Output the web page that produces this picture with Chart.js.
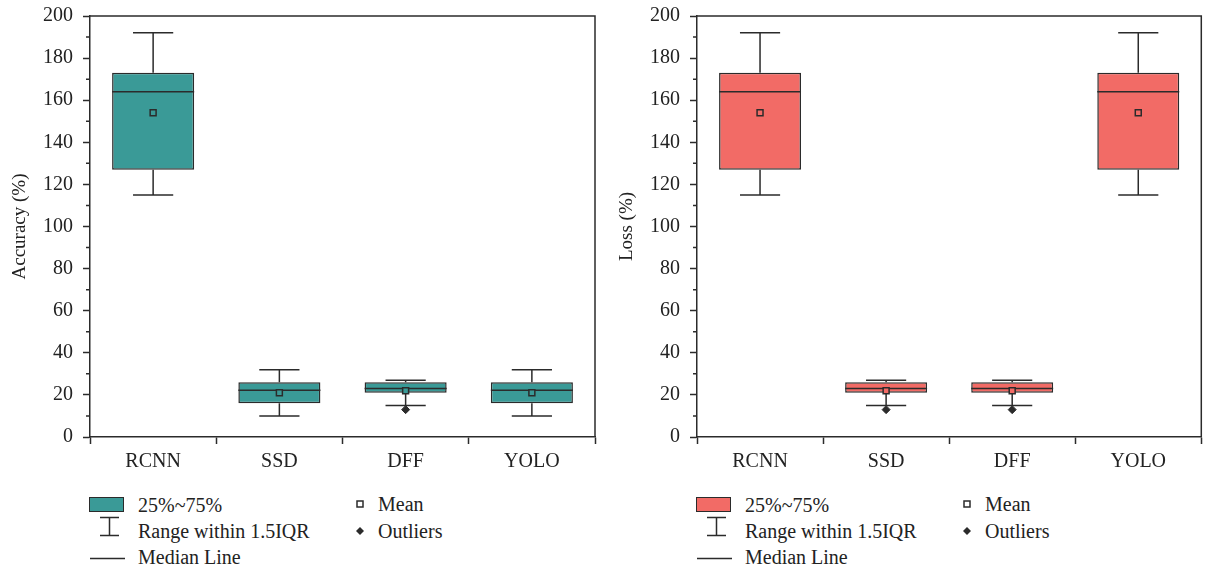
<!DOCTYPE html>
<html>
<head>
<meta charset="utf-8">
<script src="https://cdn.jsdelivr.net/npm/chart.js@4/dist/chart.umd.min.js"></script>
<style>
  body { margin: 0; background: #fff; width: 1207px; height: 571px; overflow: hidden; position: relative; font-family: "Liberation Serif", serif; color: #222; }
  .panel { position: absolute; top: 0; height: 480px; }
  .lg { position: absolute; font-size: 20px; line-height: 24px; white-space: nowrap; }
  .ico { position: absolute; }
</style>
</head>
<body>
<div class="panel" style="left:0;width:603px"><canvas id="accChart"></canvas></div>
<div class="panel" style="left:603px;width:604px"><canvas id="lossChart"></canvas></div>
<div id="legends"></div>
<script>
// data
const categories = ['RCNN', 'SSD', 'DFF', 'YOLO'];

const accQ1 = [127, 16, 21, 16];
const accQ3 = [173, 26, 26, 26];
const accMedian = [164, 22.2, 23, 22.2];
const accMean = [154, 21, 22, 21];
const accLow = [115, 10, 15, 10];
const accHigh = [192, 32, 27, 32];
const accOutliers = [null, null, 13, null];

const lossQ1 = [127, 21, 21, 127];
const lossQ3 = [173, 26, 26, 173];
const lossMedian = [164, 23, 23, 164];
const lossMean = [154, 22, 22, 154];
const lossLow = [115, 15, 15, 115];
const lossHigh = [192, 27, 27, 192];
const lossOutliers = [null, 13, 13, null];

const yTicks = [0, 20, 40, 60, 80, 100, 120, 140, 160, 180, 200];
const legendLeft = ['25%~75%', 'Range within 1.5IQR', 'Median Line'];
const legendRight = ['Mean', 'Outliers'];

const TEAL = '#3a9a97';
const RED = '#f26b66';
const INK = '#2b2b2b';
const FONT = 'Liberation Serif';

// whiskers, caps, median, frame and minor ticks
const boxPlugin = {
    id: 'boxExtras',
    afterDatasetDraw(chart, args, opts) {
        if (args.index !== 0) return;
        const ctx = chart.ctx;
        const y = chart.scales.y;
        const meta = chart.getDatasetMeta(0);
        ctx.save();
        ctx.strokeStyle = INK;
        ctx.lineWidth = 1.5;
        meta.data.forEach((bar, i) => {
            const cx = bar.x;
            const half = bar.width / 2;
            const cap = bar.width * 0.245;
            const pHigh = y.getPixelForValue(opts.high[i]);
            const pLow = y.getPixelForValue(opts.low[i]);
            const pQ3 = y.getPixelForValue(opts.q3[i]);
            const pQ1 = y.getPixelForValue(opts.q1[i]);
            const pMed = y.getPixelForValue(opts.median[i]);
            ctx.beginPath();
            ctx.moveTo(cx, pQ3); ctx.lineTo(cx, pHigh);
            ctx.moveTo(cx - cap, pHigh); ctx.lineTo(cx + cap, pHigh);
            ctx.moveTo(cx, pQ1); ctx.lineTo(cx, pLow);
            ctx.moveTo(cx - cap, pLow); ctx.lineTo(cx + cap, pLow);
            ctx.moveTo(cx - half, pMed); ctx.lineTo(cx + half, pMed);
            ctx.stroke();
        });
        ctx.restore();
    },
    afterDraw(chart) {
        const ctx = chart.ctx;
        const a = chart.chartArea;
        const y = chart.scales.y;
        ctx.save();
        ctx.strokeStyle = INK;
        ctx.lineWidth = 1.5;
        ctx.beginPath();
        ctx.moveTo(a.left, a.top); ctx.lineTo(a.right, a.top); ctx.lineTo(a.right, a.bottom);
        for (let v = 10; v < 200; v += 20) {
            const py = y.getPixelForValue(v);
            ctx.moveTo(a.left - 4, py); ctx.lineTo(a.left, py);
        }
        ctx.stroke();
        ctx.restore();
    }
};

function makeChart(id, title, color, q1, q3, median, mean, low, high, outliers, padLeft, padRight) {
    const ctx = document.getElementById(id).getContext('2d');
    return new Chart(ctx, {
        type: 'bar',
        data: {
            labels: categories,
            datasets: [{
                data: categories.map((c, i) => [q1[i], q3[i]]),
                backgroundColor: color,
                borderColor: INK,
                borderWidth: 1.5,
                borderSkipped: false,
                barPercentage: 0.65,
                categoryPercentage: 1,
                order: 3
            }, {
                type: 'line',
                data: mean,
                showLine: false,
                pointStyle: 'rect',
                pointRadius: 4.2,
                pointBackgroundColor: color,
                pointBorderColor: INK,
                pointBorderWidth: 1.5,
                order: 1
            }, {
                type: 'line',
                data: outliers,
                showLine: false,
                pointStyle: 'rectRot',
                pointRadius: 4,
                pointBackgroundColor: INK,
                pointBorderColor: INK,
                pointBorderWidth: 1,
                order: 1
            }]
        },
        options: {
            responsive: true,
            maintainAspectRatio: false,
            animation: false,
            layout: { padding: { top: 16, left: padLeft, right: padRight, bottom: 0 } },
            plugins: {
                legend: { display: false },
                tooltip: { enabled: false },
                boxExtras: { q1: q1, q3: q3, median: median, low: low, high: high }
            },
            scales: {
                x: {
                    grid: { display: true, drawOnChartArea: false, tickLength: 7, tickColor: INK, tickWidth: 1.5 },
                    border: { color: INK, width: 1.5 },
                    ticks: { color: '#222', font: { family: FONT, size: 20 }, padding: 6 },
                    afterFit(scale) { scale.height = 43; }
                },
                y: {
                    min: 0,
                    max: 200,
                    afterBuildTicks(scale) { scale.ticks = yTicks.map(v => ({ value: v })); },
                    grid: { display: true, drawOnChartArea: false, tickLength: 7, tickColor: INK, tickWidth: 1.5 },
                    border: { color: INK, width: 1.5 },
                    ticks: { color: '#222', font: { family: FONT, size: 20 }, padding: 10 },
                    title: { display: true, text: title, color: '#222', font: { family: FONT, size: 19 }, padding: { top: -1, bottom: 0 } },
                    afterFit(scale) {
                        scale.width = 80;
                        scale.paddingTop = 0;
                        scale.paddingBottom = 0;
                    }
                }
            }
        },
        plugins: [boxPlugin]
    });
}

makeChart('accChart', 'Accuracy (%)', TEAL, accQ1, accQ3, accMedian, accMean, accLow, accHigh, accOutliers, 10, 8);
makeChart('lossChart', 'Loss (%)', RED, lossQ1, lossQ3, lossMedian, lossMean, lossLow, lossHigh, lossOutliers, 14, 4);

// legends below each panel
function buildLegend(dx, color) {
    const box = document.getElementById('legends');
    const add = (html) => box.insertAdjacentHTML('beforeend', html);
    add(`<div class="ico" style="left:${dx + 89}px;top:497px;width:33px;height:13px;background:${color};border:1.5px solid ${INK}"></div>`);
    add(`<svg class="ico" style="left:${dx + 99}px;top:516px" width="21" height="21"><path d="M1 1.5H20M10.5 1.5V19.5M1 19.5H20" stroke="${INK}" stroke-width="1.5" fill="none"/></svg>`);
    add(`<svg class="ico" style="left:${dx + 90}px;top:556px" width="35" height="5"><path d="M0 2.5H35" stroke="${INK}" stroke-width="1.5"/></svg>`);
    add(`<svg class="ico" style="left:${dx + 355}px;top:499px" width="10" height="10"><rect x="2" y="2" width="6" height="6" fill="#fff" stroke="${INK}" stroke-width="1.5"/></svg>`);
    add(`<svg class="ico" style="left:${dx + 355}px;top:526px" width="10" height="10"><path d="M5 1L9 5L5 9L1 5Z" fill="${INK}"/></svg>`);
    legendLeft.forEach((t, i) => add(`<div class="lg" style="left:${dx + 138}px;top:${493 + i * 26}px">${t}</div>`));
    legendRight.forEach((t, i) => add(`<div class="lg" style="left:${dx + 378}px;top:${492 + i * 27}px">${t}</div>`));
}
buildLegend(0, TEAL);
buildLegend(607, RED);
</script>
</body>
</html>
